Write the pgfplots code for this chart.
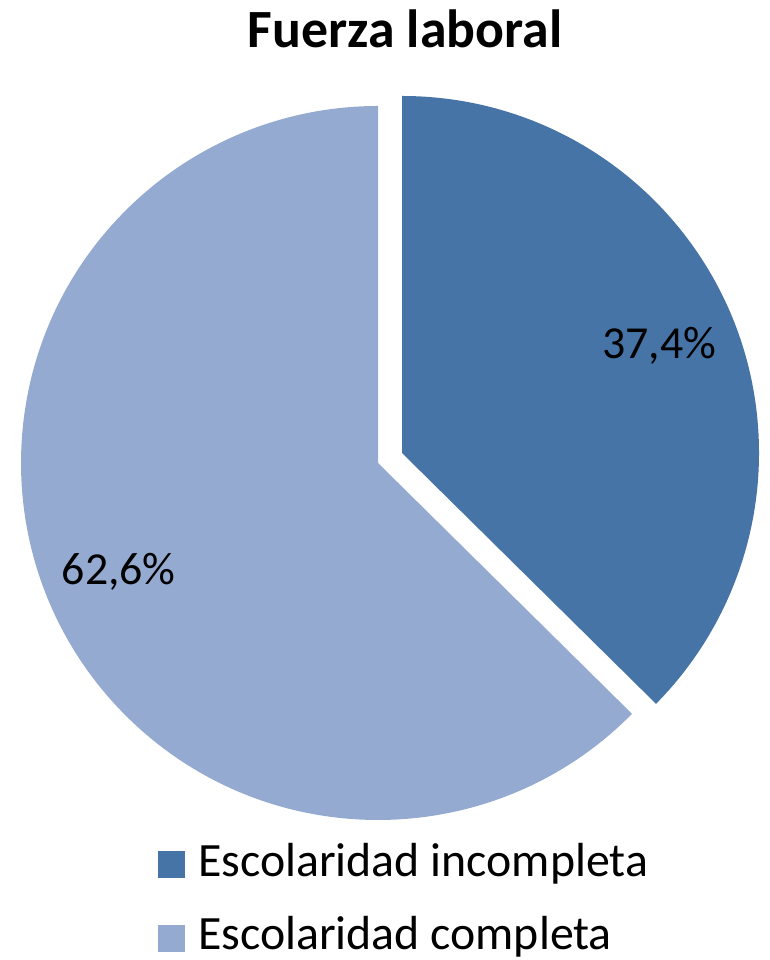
\documentclass[border=0pt]{standalone}
\usepackage{pgfplots}
\usepackage{pgfplotstable}
\pgfplotsset{compat=1.18}
\usepackage{fontspec}
\setmainfont{Carlito}

\definecolor{incomp}{RGB}{70,116,167}
\definecolor{comp}{RGB}{149,170,209}

% share of the labour force, in percent
\pgfplotstableread[col sep=comma]{
label,value
Escolaridad incompleta,37.4
Escolaridad completa,62.6
}\piedata

\begin{document}
\begin{tikzpicture}
\pgfplotstablegetelem{0}{value}\of\piedata \let\va\pgfplotsretval
\pgfplotstablegetelem{1}{value}\of\piedata \let\vb\pgfplotsretval
\pgfplotstablegetelem{0}{label}\of\piedata \let\la\pgfplotsretval
\pgfplotstablegetelem{1}{label}\of\piedata \let\lb\pgfplotsretval
\pgfmathsetmacro\aend{90-3.6*\va}
\pgfmathsetmacro\amidA{90-1.8*\va}
\pgfmathsetmacro\amidB{\aend-1.8*\vb}
\begin{axis}[
    name=ax,
    width=769bp, height=960bp, scale only axis,
    xmin=0, xmax=769, ymin=0, ymax=960,
    hide axis, clip=false,
]
% slices (the first one pulled out along its middle angle)
\fill[comp] (axis cs:378,497) -- ++(\aend:357bp)
    arc[start angle=\aend, end angle=-270, radius=357bp] -- cycle;
\fill[incomp] (axis cs:402,507) -- ++(90:357bp)
    arc[start angle=90, end angle=\aend, radius=357bp] -- cycle;
% data labels
\path (axis cs:402,507) ++(\amidA:279bp) node[font=\fontsize{46}{50}\selectfont]
    {\pgfmathprintnumber[fixed, precision=1, fixed zerofill, use comma, assume math mode=true]{\va}\%};
\path (axis cs:378,497) ++(\amidB:281bp) node[font=\fontsize{46}{50}\selectfont]
    {\pgfmathprintnumber[fixed, precision=1, fixed zerofill, use comma, assume math mode=true]{\vb}\%};
% title
\node[font=\bfseries\fontsize{54}{58}\selectfont, anchor=base] at (axis cs:405,912) {Fuerza laboral};
% legend
\fill[incomp] (axis cs:158,82) rectangle (axis cs:185,109);
\node[anchor=base west, inner sep=0pt, font=\fontsize{48}{52}\selectfont] at (axis cs:198,83) {\la};
\fill[comp] (axis cs:158,8) rectangle (axis cs:185,35);
\node[anchor=base west, inner sep=0pt, font=\fontsize{48}{52}\selectfont] at (axis cs:198,10) {\lb};
\end{axis}
\pgfresetboundingbox
\path (ax.south west) rectangle (ax.north east);
\end{tikzpicture}
\end{document}
